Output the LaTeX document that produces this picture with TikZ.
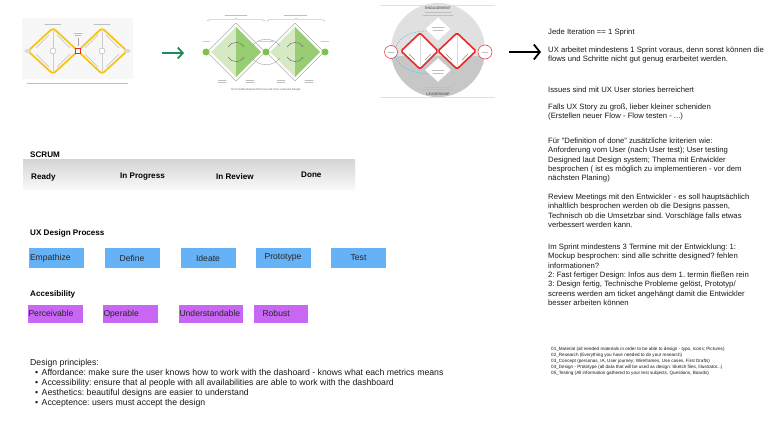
\documentclass[tikz,border=0pt]{standalone}
\usepackage{fontspec}
\setmainfont{Liberation Sans}
\usepackage{xcolor}
\usetikzlibrary{positioning,arrows.meta,decorations.pathreplacing}

\definecolor{uxblue}{HTML}{66B2F7}
\definecolor{axpurple}{HTML}{C767F4}
\definecolor{ddyellow}{HTML}{F6C515}
\definecolor{ddred}{HTML}{E52B2B}
\definecolor{ddgreen}{HTML}{7DC24F}
\definecolor{ddlight}{HTML}{D5EAC4}
\definecolor{dddark}{HTML}{98CD74}
\definecolor{arrowgreen}{HTML}{1F8A5C}
\definecolor{skyblue}{HTML}{5CC3EC}

\tikzset{
	heading/.style={anchor=west, inner sep=0, font=\bfseries\fontsize{8.1}{10}\selectfont},
	note/.style={anchor=north west, inner sep=0, align=left, text=black!90, font=\fontsize{7.7}{9.4}\selectfont},
	stepbox/.style={fill=uxblue, minimum height=20, inner ysep=0, inner xsep=1, text width=53, align=center, text=black!85, font=\fontsize{8.6}{10}\selectfont},
	a11ybox/.style={fill=axpurple, minimum height=18, inner ysep=0, inner xsep=0.5, text width=#1, text height=6.3, text depth=1.9, align=left, text=black!85, font=\fontsize{8.6}{10}\selectfont},
	tinytext/.style={line width=0.8, black!25, line cap=round}
}

\begin{document}
\frenchspacing
\begin{tikzpicture}[x=1pt, y=-1pt]
	
	\fill[white] (0,0) rectangle (768,436);
	\useasboundingbox (0,0) rectangle (768,436);
	
	% first double diamond
	\fill[black!3] (22,18) rectangle (133,79);
	\draw[tinytext] (45,24) -- (61,24);
	\draw[tinytext] (94,24) -- (110,24);
	\foreach \cx in {53,102} {
		\draw[black!20, line width=0.4] (\cx,31) -- (\cx,71);
		\draw[black!25, line width=0.4] (\cx-17,48) -- (\cx-4,35);
		\draw[black!25, line width=0.4] (\cx-17,54) -- (\cx-4,67);
		\draw[black!25, line width=0.4] (\cx+4,35) -- (\cx+17,48);
		\draw[black!25, line width=0.4] (\cx+4,67) -- (\cx+17,54);
		\filldraw[fill=white, draw=black!35, line width=0.4] (\cx,51) circle[radius=3];
	}
	\draw[ddyellow, line width=1.8, rounded corners=3] (28,51) -- (53,28) -- (78,51) -- (53,74) -- cycle;
	\draw[ddyellow, line width=1.8, rounded corners=3] (78,51) -- (102,28) -- (127,51) -- (102,74) -- cycle;
	\fill[black!15] (28,51) ellipse (3.5 and 2);
	\fill[black!15] (127,51) ellipse (3.5 and 2);
	\draw[black!35, line width=0.4] (78,38) -- (78,46);
	\draw[tinytext, line width=0.6] (74,33) -- (82,33);
	\draw[tinytext, line width=0.6] (75,35.5) -- (81,35.5);
	\draw[ddred, line width=1.3, fill=white] (75.5,48.5) rectangle (80.5,53.5);
	\draw[tinytext, line width=0.7] (27,83.5) -- (128,83.5);
	
	\coordinate (greentail) at (162,53);
	\coordinate (greenhead) at (184,53);
	\draw[arrowgreen, line width=1.8, -{Straight Barb[length=5,width=11]}] (greentail) -- (greenhead);
	
	% second double diamond
	\draw[decorate, decoration={brace, amplitude=2.5}, black!40, line width=0.4] (207,21) -- (265,21);
	\draw[decorate, decoration={brace, amplitude=2.5}, black!40, line width=0.4] (267,21) -- (325,21);
	\draw[tinytext, line width=0.6] (225,15) -- (247,15);
	\draw[tinytext, line width=0.6] (284,15) -- (307,15);
	\foreach \cx in {236,295} {
		\filldraw[fill=white, draw=black!30, line width=0.5] (\cx-29,52) -- (\cx,23) -- (\cx+29,52) -- (\cx,81) -- cycle;
		\fill[ddlight] (\cx-25,52) -- (\cx,27) -- (\cx,77) -- cycle;
		\fill[dddark] (\cx,27) -- (\cx+25,52) -- (\cx,77) -- cycle;
		\draw[black!55, line width=0.5, -{Stealth[length=1.6]}] (\cx-8,47) .. controls (\cx-5,41) and (\cx+5,41) .. (\cx+8,47);
		\draw[black!55, line width=0.5, -{Stealth[length=1.6]}] (\cx-8,57) .. controls (\cx-5,63) and (\cx+5,63) .. (\cx+8,57);
		\draw[tinytext, line width=0.5] (\cx-18,80) -- (\cx-10,80);
		\draw[tinytext, line width=0.5] (\cx-18,82.5) -- (\cx-10,82.5);
		\draw[tinytext, line width=0.5] (\cx+10,80) -- (\cx+18,80);
		\draw[tinytext, line width=0.5] (\cx+10,82.5) -- (\cx+18,82.5);
	}
	\draw[black!35, line width=0.4] (252,46) .. controls (259,37) and (273,37) .. (280,46);
	\draw[black!35, line width=0.4] (252,58) .. controls (259,67) and (273,67) .. (280,58);
	\draw[ddgreen!50, line width=0.6, line cap=round] (203,41) -- (210,41);
	\draw[ddgreen!50, line width=0.6, line cap=round] (257,41) -- (275,41);
	\draw[ddgreen!50, line width=0.6, line cap=round] (321,41) -- (329,41);
	\fill[ddgreen] (206,52) circle[radius=3.5];
	\fill[ddgreen] (266,52) circle[radius=3.5];
	\fill[ddgreen] (325,52) circle[radius=3.5];
	\node[inner sep=0, text=black!60, font=\fontsize{2.8}{3}\selectfont] (ddcaption) at (266,90) {Der Double Diamond Prozess für User-centered Design};
	
	% third double diamond
	\draw[black!12, line width=0.5] (380,5) -- (495,5);
	\draw[black!12, line width=0.5] (380,97) -- (495,97);
	\fill[black!12] (438,50) circle[radius=47];
	\begin{scope}
		\clip (438,50) circle[radius=47];
		\fill[black!22] (380,56) rectangle (500,100);
	\end{scope}
	\node[inner sep=0, text=black!60, font=\bfseries\fontsize{3.6}{4}\selectfont] (engage) at (438,8) {ENGAGEMENT};
	\node[inner sep=0, text=black!60, font=\bfseries\fontsize{3.6}{4}\selectfont] (lead) at (438,94) {LEADERSHIP};
	\draw[tinytext, line width=0.5] (425,12.5) -- (451,12.5);
	\draw[tinytext, line width=0.5] (423,15) -- (453,15);
	\draw[tinytext, line width=0.5] (425,87) -- (451,87);
	\draw[tinytext, line width=0.5] (423,89.5) -- (453,89.5);
	\draw[skyblue, line width=0.6, dash pattern=on 1.5 off 1.2] (432,31) .. controls (385,28) and (380,74) .. (432,74);
	\draw[skyblue, line width=0.6, dash pattern=on 1.5 off 1.2] (450,47) .. controls (452,39) and (463,39) .. (465,47);
	\filldraw[fill=white, draw=black!15, line width=0.3] (438,17) -- (451,29) -- (438,41) -- (425,29) -- cycle;
	\filldraw[fill=white, draw=black!15, line width=0.3] (438,58) -- (451,70) -- (438,82) -- (425,70) -- cycle;
	\draw[tinytext, line width=0.5] (432,27) -- (444,27);
	\draw[tinytext, line width=0.5] (433,30) -- (443,30);
	\draw[tinytext, line width=0.5] (432,70) -- (444,70);
	\draw[tinytext, line width=0.5] (433,73) -- (443,73);
	\filldraw[fill=white, draw=ddred, line width=1.6, rounded corners=1.5] (401,51) -- (420,33) -- (438,51) -- (420,69) -- cycle;
	\filldraw[fill=white, draw=ddred, line width=1.6, rounded corners=1.5] (438,51) -- (457,33) -- (476,51) -- (457,69) -- cycle;
	\foreach \cx in {420,457} {
		\draw[black!15, line width=0.3] (\cx,36) -- (\cx,66);
		\draw[black!45, line width=0.6] (\cx-11,54) -- (\cx-5,60);
		\draw[black!45, line width=0.6] (\cx+5,60) -- (\cx+11,54);
	}
	\filldraw[fill=white, draw=ddred, line width=0.5] (391,52) circle[radius=6.5];
	\filldraw[fill=white, draw=ddred, line width=0.5] (485,52) circle[radius=7];
	\draw[tinytext, line width=0.5] (388,52) -- (394,52);
	\draw[tinytext, line width=0.5] (482,52) -- (488,52);
	
	\coordinate (blacktail) at (509,52);
	\coordinate (blackhead) at (541,52);
	\draw[black, line width=1.8, -{Straight Barb[length=6,width=15]}] (blacktail) -- (blackhead);
	
	\node[note] (iteration) at (548,28.5) {Jede Iteration == 1 Sprint};
	\node[note] (ahead) at (548,46.5) {UX arbeitet mindestens 1 Sprint voraus, denn sonst können die\\flows und Schritte nicht gut genug erarbeitet werden.};
	\node[note] (issues) at (548,86.5) {Issues sind mit UX User stories berreichert};
	\node[note] (toobig) at (548,103.5) {Falls UX Story zu groß, lieber kleiner scheniden\\(Erstellen neuer Flow - Flow testen - ...)};
	\node[note] (dod) at (548,137.5) {Für "Definition of done" zusätzliche kriterien wie:\\Anforderung vom User (nach User test); User testing\\Designed laut Design system; Thema mit Entwickler\\besprochen ( ist es möglich zu implementieren - vor dem\\nächsten Planing)};
	\node[note] (review) at (548,193.5) {Review Meetings mit den Entwickler -  es soll hauptsächlich\\inhaltlich besprochen werden ob die Designs passen,\\Technisch ob die Umsetzbar sind. Vorschläge falls etwas\\verbessert werden kann.};
	\node[note] (termine) at (548,243.5) {Im Sprint mindestens 3 Termine mit der Entwicklung: 1:\\Mockup besprochen: sind alle schritte designed? fehlen\\informationen?\\2: Fast fertiger Design: Infos aus dem 1. termin fließen rein\\3: Design fertig, Technische Probleme gelöst, Prototyp/\\screens werden am ticket angehängt damit die Entwickler\\besser arbeiten können};
	\node[note, font=\fontsize{4.6}{6}\selectfont] (folders) at (551,347) {01\_Material (all needed materials in order to be able to design - typo, Icons; Pictures)\\02\_Research (Everything you have needed to do your research)\\03\_Concept (personas, IA, User journey; Wireframes, Use cases, First Drafts)\\04\_Design - Prototype (all data that will be used as design: Sketch files, Illustrator...)\\05\_Testing (All information gathered to your test subjects, Questions, Boards)};
	
	\node[heading] (scrum) at (30,155) {SCRUM};
	\shade[top color=black!17, bottom color=black!2] (23,159) rectangle (355,190);
	\node[heading] (ready) at (31,177) {Ready};
	\node[heading] (progress) at (120,177) {In Progress};
	\node[heading] (inreview) at (216,177) {In Review};
	\node[heading] (done) at (301,175) {Done};
	
	\node[heading] (uxprocess) at (30,233) {UX Design Process};
	\node[stepbox, align=left] (empathize) at (56.5,258) {Empathize};
	\node[stepbox] (define) at (132,258) {Define};
	\node[stepbox] (ideate) at (208,258) {Ideate};
	\node[stepbox] (prototype) at (283,257.5) {Prototype};
	\node[stepbox] (test) at (358.5,258) {Test};
	
	\node[heading] (accesibility) at (30,294) {Accesibility};
	\node[a11ybox=54] (perceivable) at (55.5,314) {Perceivable};
	\node[a11ybox=54] (operable) at (130.5,314) {Operable};
	\node[a11ybox=63] (understandable) at (211,314) {Understandable};
	\node[a11ybox=53] (robust) at (281,314) {\hspace*{8pt}Robust};
	
	\node[note, font=\fontsize{8.7}{10.1}\selectfont] (principles) at (30,359) {Design principles:\\
		\hspace*{5pt}\textbullet\hspace{3.5pt}Affordance: make sure the user knows how to work with the dashoard - knows what each metrics means\\
		\hspace*{5pt}\textbullet\hspace{3.5pt}Accessibility: ensure that al people with all availabilities are able to work with the dashboard\\
		\hspace*{5pt}\textbullet\hspace{3.5pt}Aesthetics: beautiful designs are easier to understand\\
		\hspace*{5pt}\textbullet\hspace{3.5pt}Acceptence: users must accept the design};
	
\end{tikzpicture}
\end{document}
